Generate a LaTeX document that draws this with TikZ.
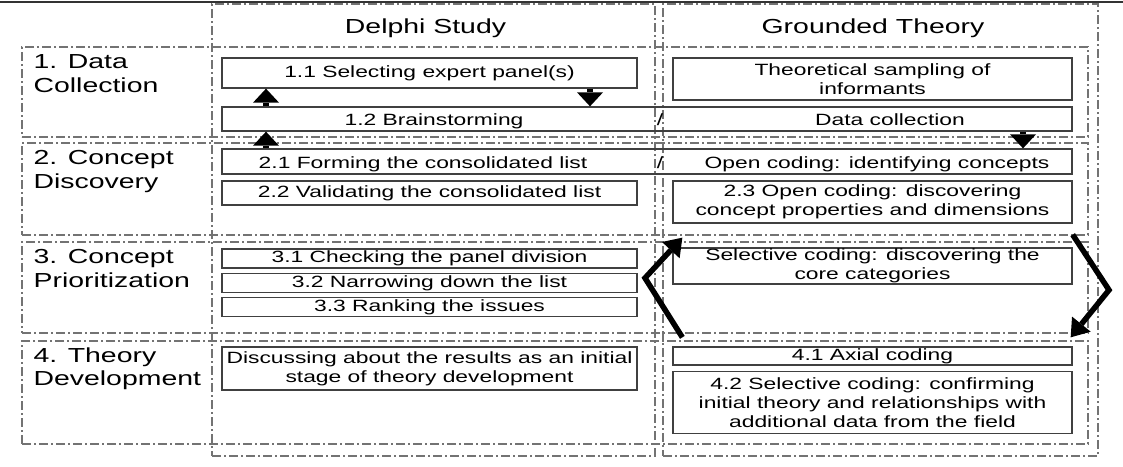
\documentclass[tikz,border=0pt]{standalone}
\usepackage{fontspec}
\setmainfont{Liberation Sans}[FakeStretch=1.4]
\usetikzlibrary{arrows.meta, positioning}

\begin{document}
\begin{tikzpicture}[
        x=1pt, y=-1pt,
        frame/.style={rectangle, draw=black!55, line width=1.2pt,
                      dash pattern=on 9pt off 3pt on 2pt off 3pt, inner sep=0pt},
        colframe/.style={frame},
        rowframe/.style={frame, minimum width=1066pt},
        box/.style={rectangle, draw=black!75, line width=1.3pt, inner sep=0pt,
                    align=center, font=\fontsize{16.3}{19}\selectfont},
        leftbox/.style={box, minimum width=415pt},
        rightbox/.style={box, minimum width=399pt},
        widebox/.style={box, minimum width=850pt},
        boxtext/.style={inner sep=0pt, anchor=base, font=\fontsize{16.3}{19}\selectfont},
        head/.style={inner sep=0pt, anchor=base, font=\fontsize{20.3}{24}\selectfont},
        rowlabel/.style={inner sep=0pt, anchor=north west, align=left,
                         font=\fontsize{20.3}{23.5}\selectfont},
        smallarrow/.style={-{Triangle[length=14pt, width=26pt, line width=0pt]}, line width=6pt},
        bigarrow/.style={-{Triangle[length=17pt, width=24pt, line width=0pt]}, line width=5.5pt}
    ]
        \useasboundingbox (0,0) rectangle (1123,466);
        \draw[line width=1.5pt, black!80] (0,2) -- (1123,2);

        % columns and rows
        \node[colframe, minimum width=443pt, minimum height=452pt] (delphi) at (433.5,230) {};
        \node[colframe, minimum width=435pt, minimum height=452pt] (grounded) at (880.5,230) {};
        \node[head] (hdelphi) at (425.5,33) {Delphi Study};
        \node[head] (hgrounded) at (873,33) {Grounded Theory};

        \node[rowframe, minimum height=90pt] (row1) at (555,92) {};
        \node[rowframe, minimum height=92pt] (row2) at (555,189) {};
        \node[rowframe, minimum height=91pt] (row3) at (555,287.5) {};
        \node[rowframe, minimum height=103pt] (row4) at (555,392.5) {};

        \node[rowlabel] (lab1) at ([xshift=12pt, yshift=-8pt]row1.north west) {1. Data\\Collection};
        \node[rowlabel] (lab2) at ([xshift=12pt, yshift=-8pt]row2.north west) {2. Concept\\Discovery};
        \node[rowlabel] (lab3) at ([xshift=12pt, yshift=-8pt]row3.north west) {3. Concept\\Prioritization};
        \node[rowlabel] (lab4) at ([xshift=12pt, yshift=-7pt]row4.north west) {4. Theory\\Development};

        % 1. data collection
        \node[leftbox, minimum height=30pt] (sel) at (429.5,73) {1.1 Selecting expert panel(s)};
        \node[rightbox, minimum height=42pt] (theo) at (872.5,79) {Theoretical sampling of\\informants};
        \node[widebox, minimum height=24pt] (brain) at (647,119) {};
        \node[boxtext] (brainL) at (434,125.5) {1.2 Brainstorming};
        \node[boxtext] (brainS) at (660,125.5) {/};
        \node[boxtext] (brainR) at (890,125.5) {Data collection};

        % 2. concept discovery
        \node[widebox, minimum height=25pt] (form) at (647,161.5) {};
        \node[boxtext] (formL) at (423,168) {2.1 Forming the consolidated list};
        \node[boxtext] (formS) at (660,168) {/};
        \node[boxtext] (formR) at (877,168) {Open coding: identifying concepts};
        \node[leftbox, minimum height=24pt] (valid) at (429.5,193) {2.2 Validating the consolidated list};
        \node[rightbox, minimum height=42pt] (props) at (872.5,202) {2.3 Open coding: discovering\\concept properties and dimensions};

        % 3. concept prioritization
        \node[leftbox, minimum height=19pt] (check) at (429.5,258.5) {3.1 Checking the panel division};
        \node[leftbox, minimum height=19pt, below=4pt of check] (narrow) {3.2 Narrowing down the list};
        \node[leftbox, minimum height=19pt, below=4pt of narrow] (rank) {3.3 Ranking the issues};
        \node[rightbox, minimum height=36pt] (core) at (872.5,266) {Selective coding: discovering the\\core categories};

        % 4. theory development
        \node[leftbox, minimum height=43pt] (discuss) at (429.5,368.5) {Discussing about the results as an initial\\stage of theory development};
        \node[rightbox, minimum height=18pt] (axial) at (872.5,356) {4.1 Axial coding};
        \node[rightbox, minimum height=62pt, below=5pt of axial] (confirm) {4.2 Selective coding: confirming\\initial theory and relationships with\\additional data from the field};

        % arrows
        \coordinate (xa) at (266,0);
        \coordinate (xb) at (590,0);
        \coordinate (xc) at (1023,0);
        \draw[smallarrow] (brain.north -| xa) -- (sel.south -| xa);
        \draw[smallarrow] (form.north -| xa) -- (brain.south -| xa);
        \draw[smallarrow] (sel.south -| xb) -- (brain.north -| xb);
        \draw[smallarrow] (brain.south -| xc) -- (form.north -| xc);

        \coordinate (bendL) at (645,278);
        \coordinate (bendR) at (1109,290);
        \draw[bigarrow] ([xshift=10pt, yshift=9pt]axial.north west) -- (bendL) -- ([xshift=10pt, yshift=-14pt]props.south west);
        \draw[bigarrow] ([yshift=-11pt]props.south east) -- (bendR) -- ([xshift=-2pt, yshift=9pt]axial.north east);
    \end{tikzpicture}
\end{document}
